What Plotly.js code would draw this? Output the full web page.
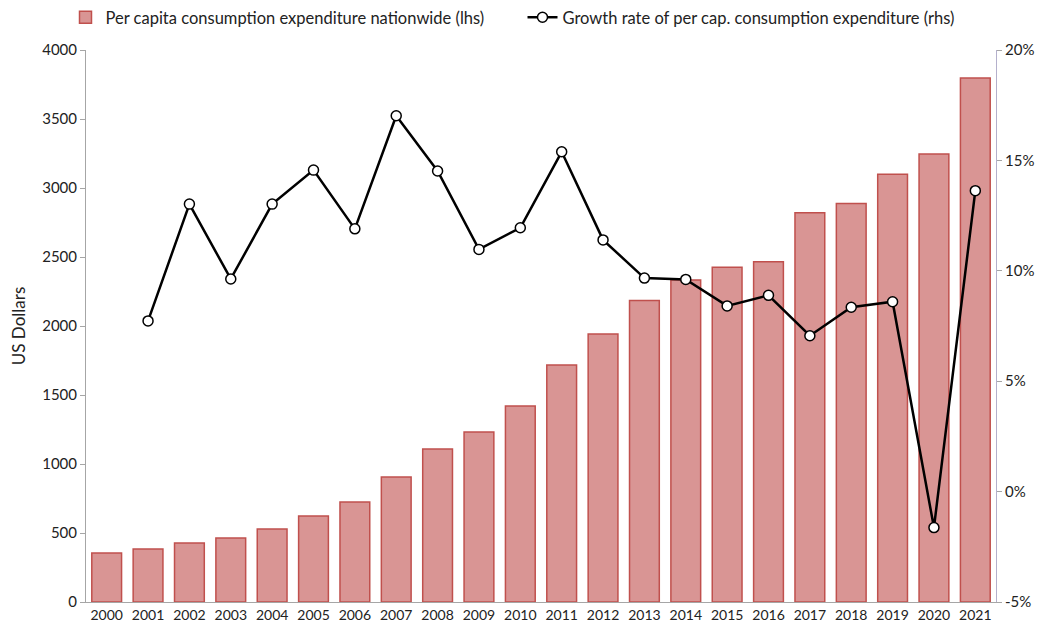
<!DOCTYPE html>
<html>
<head>
<meta charset="utf-8">
<script src="https://cdn.plot.ly/plotly-3.0.1.min.js"></script>
<style>html,body{margin:0;padding:0;background:#fff;}#chart{width:1045px;height:633px;}</style>
</head>
<body>
<div id="chart"></div>
<script>
const years = ["2000","2001","2002","2003","2004","2005","2006","2007","2008","2009","2010","2011","2012","2013","2014","2015","2016","2017","2018","2019","2020","2021"];
const expenditure = [355,384,428,464,529,623,725,906,1109,1232,1420,1717,1942,2185,2333,2425,2466,2821,2888,3099,3246,3797];
const growthYears = ["2001","2002","2003","2004","2005","2006","2007","2008","2009","2010","2011","2012","2013","2014","2015","2016","2017","2018","2019","2020","2021"];
const growth = [7.73,13.02,9.63,13.02,14.56,11.9,17.02,14.52,10.97,11.95,15.39,11.4,9.67,9.61,8.41,8.89,7.06,8.35,8.6,-1.63,13.63];
const leftTicks = [0,500,1000,1500,2000,2500,3000,3500,4000];
const rightTicks = [-5,0,5,10,15,20];

const fontFam = "Lato, 'Open Sans', sans-serif";

const traces = [
  {
    type: 'bar', x: years, y: expenditure,
    name: 'Per capita consumption expenditure nationwide (lhs)',
    marker: {color: '#d99594', line: {color: '#c0504d', width: 1.5}},
    yaxis: 'y'
  },
  {
    type: 'scatter', mode: 'lines+markers', x: growthYears, y: growth,
    name: 'Growth rate of per cap. consumption expenditure (rhs)',
    line: {color: '#000000', width: 2.5},
    marker: {symbol: 'circle', size: 10, color: '#ffffff', line: {color: '#000000', width: 1.5}},
    yaxis: 'y2'
  }
];

const layout = {
  width: 1045, height: 633,
  margin: {l: 86, r: 49, t: 50, b: 31},
  paper_bgcolor: '#ffffff', plot_bgcolor: '#ffffff',
  font: {family: fontFam, size: 14, color: '#222222'},
  bargap: 0.28,
  showlegend: true,
  legend: {orientation: 'h', x: 0.5, xanchor: 'center', xref: 'container', yref: 'container', y: 1.0, yanchor: 'top',
           font: {size: 16.5, color: '#222'}, traceorder: 'normal', itemwidth: 30, entrywidth: 412},
  xaxis: {
    type: 'category', range: [-0.5, 21.5], showgrid: false, showline: true, linecolor: '#a6a6a6', linewidth: 1,
    ticks: '', tickfont: {size: 14}, zeroline: false
  },
  yaxis: {
    range: [0, 4000], tickvals: leftTicks, ticktext: leftTicks.map(String),
    showgrid: false, showline: true, linecolor: '#a6a6a6', linewidth: 1,
    ticks: 'outside', ticklen: 5, tickcolor: '#a6a6a6', zeroline: false,
    title: {text: 'US Dollars', font: {size: 17}, standoff: 12}, tickfont: {size: 15}
  },
  yaxis2: {
    overlaying: 'y', side: 'right', range: [-5, 20], tickvals: rightTicks,
    ticktext: rightTicks.map(v => v + '%'),
    showgrid: false, showline: true, linecolor: '#b4b0cc', linewidth: 1,
    ticks: 'outside', ticklen: 5, tickcolor: '#a6a6a6', zeroline: false, tickfont: {size: 15}
  }
};

Plotly.newPlot('chart', traces, layout, {displayModeBar: false, staticPlot: true});
</script>
</body>
</html>
